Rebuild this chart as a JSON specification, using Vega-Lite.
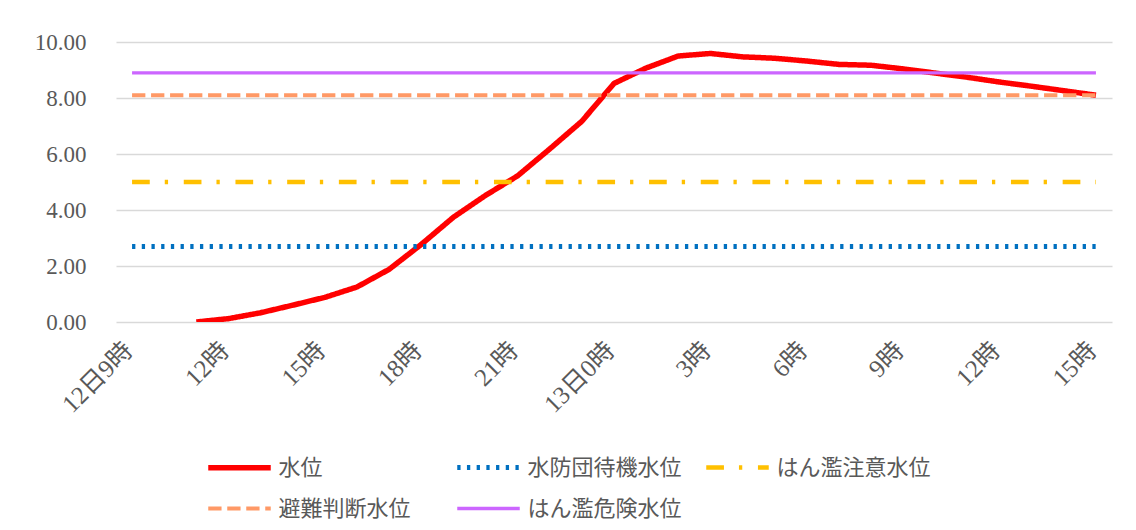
{
  "$schema": "https://vega.github.io/schema/vega-lite/v6.json",
  "width": 996,
  "height": 280,
  "autosize": "none",
  "padding": {"left": 116, "top": 42, "right": 24, "bottom": 208},
  "background": "white",
  "config": {
    "view": {"stroke": null},
    "legend": {
      "orient": "none",
      "direction": "horizontal",
      "legendX": 108,
      "legendY": 410,
      "columns": 3,
      "gridAlign": "all",
      "columnPadding": 14,
      "rowPadding": 15,
      "symbolType": "M-2.5,0H2.5",
      "symbolSize": 625,
      "labelFont": "Noto Sans CJK JP",
      "labelFontSize": 22,
      "labelColor": "#595959",
      "labelOffset": 23.5,
      "labelLimit": 400,
      "title": null,
      "padding": 0
    }
  },
  "data": {
    "values": [
      {"時刻": "12日9時", "水位": null, "水防団待機水位": 2.7, "はん濫注意水位": 5.0, "避難判断水位": 8.1, "はん濫危険水位": 8.9},
      {"時刻": "12日10時", "水位": null, "水防団待機水位": 2.7, "はん濫注意水位": 5.0, "避難判断水位": 8.1, "はん濫危険水位": 8.9},
      {"時刻": "12日11時", "水位": 0.0, "水防団待機水位": 2.7, "はん濫注意水位": 5.0, "避難判断水位": 8.1, "はん濫危険水位": 8.9},
      {"時刻": "12日12時", "水位": 0.12, "水防団待機水位": 2.7, "はん濫注意水位": 5.0, "避難判断水位": 8.1, "はん濫危険水位": 8.9},
      {"時刻": "12日13時", "水位": 0.33, "水防団待機水位": 2.7, "はん濫注意水位": 5.0, "避難判断水位": 8.1, "はん濫危険水位": 8.9},
      {"時刻": "12日14時", "水位": 0.6, "水防団待機水位": 2.7, "はん濫注意水位": 5.0, "避難判断水位": 8.1, "はん濫危険水位": 8.9},
      {"時刻": "12日15時", "水位": 0.88, "水防団待機水位": 2.7, "はん濫注意水位": 5.0, "避難判断水位": 8.1, "はん濫危険水位": 8.9},
      {"時刻": "12日16時", "水位": 1.25, "水防団待機水位": 2.7, "はん濫注意水位": 5.0, "避難判断水位": 8.1, "はん濫危険水位": 8.9},
      {"時刻": "12日17時", "水位": 1.88, "水防団待機水位": 2.7, "はん濫注意水位": 5.0, "避難判断水位": 8.1, "はん濫危険水位": 8.9},
      {"時刻": "12日18時", "水位": 2.77, "水防団待機水位": 2.7, "はん濫注意水位": 5.0, "避難判断水位": 8.1, "はん濫危険水位": 8.9},
      {"時刻": "12日19時", "水位": 3.74, "水防団待機水位": 2.7, "はん濫注意水位": 5.0, "避難判断水位": 8.1, "はん濫危険水位": 8.9},
      {"時刻": "12日20時", "水位": 4.52, "水防団待機水位": 2.7, "はん濫注意水位": 5.0, "避難判断水位": 8.1, "はん濫危険水位": 8.9},
      {"時刻": "12日21時", "水位": 5.22, "水防団待機水位": 2.7, "はん濫注意水位": 5.0, "避難判断水位": 8.1, "はん濫危険水位": 8.9},
      {"時刻": "12日22時", "水位": 6.18, "水防団待機水位": 2.7, "はん濫注意水位": 5.0, "避難判断水位": 8.1, "はん濫危険水位": 8.9},
      {"時刻": "12日23時", "水位": 7.17, "水防団待機水位": 2.7, "はん濫注意水位": 5.0, "避難判断水位": 8.1, "はん濫危険水位": 8.9},
      {"時刻": "13日0時", "水位": 8.52, "水防団待機水位": 2.7, "はん濫注意水位": 5.0, "避難判断水位": 8.1, "はん濫危険水位": 8.9},
      {"時刻": "13日1時", "水位": 9.07, "水防団待機水位": 2.7, "はん濫注意水位": 5.0, "避難判断水位": 8.1, "はん濫危険水位": 8.9},
      {"時刻": "13日2時", "水位": 9.5, "水防団待機水位": 2.7, "はん濫注意水位": 5.0, "避難判断水位": 8.1, "はん濫危険水位": 8.9},
      {"時刻": "13日3時", "水位": 9.59, "水防団待機水位": 2.7, "はん濫注意水位": 5.0, "避難判断水位": 8.1, "はん濫危険水位": 8.9},
      {"時刻": "13日4時", "水位": 9.47, "水防団待機水位": 2.7, "はん濫注意水位": 5.0, "避難判断水位": 8.1, "はん濫危険水位": 8.9},
      {"時刻": "13日5時", "水位": 9.42, "水防団待機水位": 2.7, "はん濫注意水位": 5.0, "避難判断水位": 8.1, "はん濫危険水位": 8.9},
      {"時刻": "13日6時", "水位": 9.32, "水防団待機水位": 2.7, "はん濫注意水位": 5.0, "避難判断水位": 8.1, "はん濫危険水位": 8.9},
      {"時刻": "13日7時", "水位": 9.2, "水防団待機水位": 2.7, "はん濫注意水位": 5.0, "避難判断水位": 8.1, "はん濫危険水位": 8.9},
      {"時刻": "13日8時", "水位": 9.17, "水防団待機水位": 2.7, "はん濫注意水位": 5.0, "避難判断水位": 8.1, "はん濫危険水位": 8.9},
      {"時刻": "13日9時", "水位": 9.04, "水防団待機水位": 2.7, "はん濫注意水位": 5.0, "避難判断水位": 8.1, "はん濫危険水位": 8.9},
      {"時刻": "13日10時", "水位": 8.89, "水防団待機水位": 2.7, "はん濫注意水位": 5.0, "避難判断水位": 8.1, "はん濫危険水位": 8.9},
      {"時刻": "13日11時", "水位": 8.74, "水防団待機水位": 2.7, "はん濫注意水位": 5.0, "避難判断水位": 8.1, "はん濫危険水位": 8.9},
      {"時刻": "13日12時", "水位": 8.57, "水防団待機水位": 2.7, "はん濫注意水位": 5.0, "避難判断水位": 8.1, "はん濫危険水位": 8.9},
      {"時刻": "13日13時", "水位": 8.42, "水防団待機水位": 2.7, "はん濫注意水位": 5.0, "避難判断水位": 8.1, "はん濫危険水位": 8.9},
      {"時刻": "13日14時", "水位": 8.26, "水防団待機水位": 2.7, "はん濫注意水位": 5.0, "避難判断水位": 8.1, "はん濫危険水位": 8.9},
      {"時刻": "13日15時", "水位": 8.1, "水防団待機水位": 2.7, "はん濫注意水位": 5.0, "避難判断水位": 8.1, "はん濫危険水位": 8.9}
    ]
  },
  "transform": [
    {"fold": ["水位", "水防団待機水位", "はん濫注意水位", "避難判断水位", "はん濫危険水位"], "as": ["系列", "値"]}
  ],
  "mark": {"type": "line", "strokeCap": "butt", "strokeJoin": "round", "clip": true},
  "encoding": {
    "x": {
      "field": "時刻",
      "type": "ordinal",
      "sort": null,
      "scale": {"type": "point", "padding": 0.5},
      "axis": {
        "values": ["12日9時", "12日12時", "12日15時", "12日18時", "12日21時", "13日0時", "13日3時", "13日6時", "13日9時", "13日12時", "13日15時"],
        "labelExpr": "datum.value == '12日9時' || datum.value == '13日0時' ? datum.value : split(datum.value, '日')[1]",
        "labelAngle": -45,
        "labelAlign": "right",
        "labelBaseline": "middle",
        "labelPadding": 24,
        "labelOffset": -4,
        "labelOverlap": false,
        "domain": false,
        "ticks": false,
        "grid": false,
        "title": null,
        "labelFont": "Liberation Serif, Noto Sans CJK JP",
        "labelFontSize": 25,
        "labelColor": "#595959"
      }
    },
    "y": {
      "field": "値",
      "type": "quantitative",
      "scale": {"domain": [0, 10], "nice": false, "zero": true},
      "axis": {
        "values": [0, 2, 4, 6, 8, 10],
        "format": ".2f",
        "grid": true,
        "gridColor": "#D9D9D9",
        "gridWidth": 1.3,
        "domain": false,
        "ticks": false,
        "labelPadding": 30,
        "labelFont": "Liberation Serif",
        "labelFontSize": 23,
        "labelColor": "#595959",
        "title": null
      }
    },
    "color": {
      "field": "系列",
      "type": "nominal",
      "scale": {
        "domain": ["水位", "水防団待機水位", "はん濫注意水位", "避難判断水位", "はん濫危険水位"],
        "range": ["#FF0000", "#0070C0", "#FFC000", "#FF9966", "#CC66FF"]
      }
    },
    "strokeDash": {
      "field": "系列",
      "type": "nominal",
      "scale": {
        "domain": ["水位", "水防団待機水位", "はん濫注意水位", "避難判断水位", "はん濫危険水位"],
        "range": [[1, 0], [3.3, 6.4], [17.7, 15, 3.3, 15.7], [13.3, 5.7], [1, 0]]
      }
    },
    "strokeWidth": {
      "field": "系列",
      "type": "nominal",
      "scale": {
        "domain": ["水位", "水防団待機水位", "はん濫注意水位", "避難判断水位", "はん濫危険水位"],
        "range": [5.5, 3.3, 3.3, 3.3, 3.3]
      }
    }
  }
}
